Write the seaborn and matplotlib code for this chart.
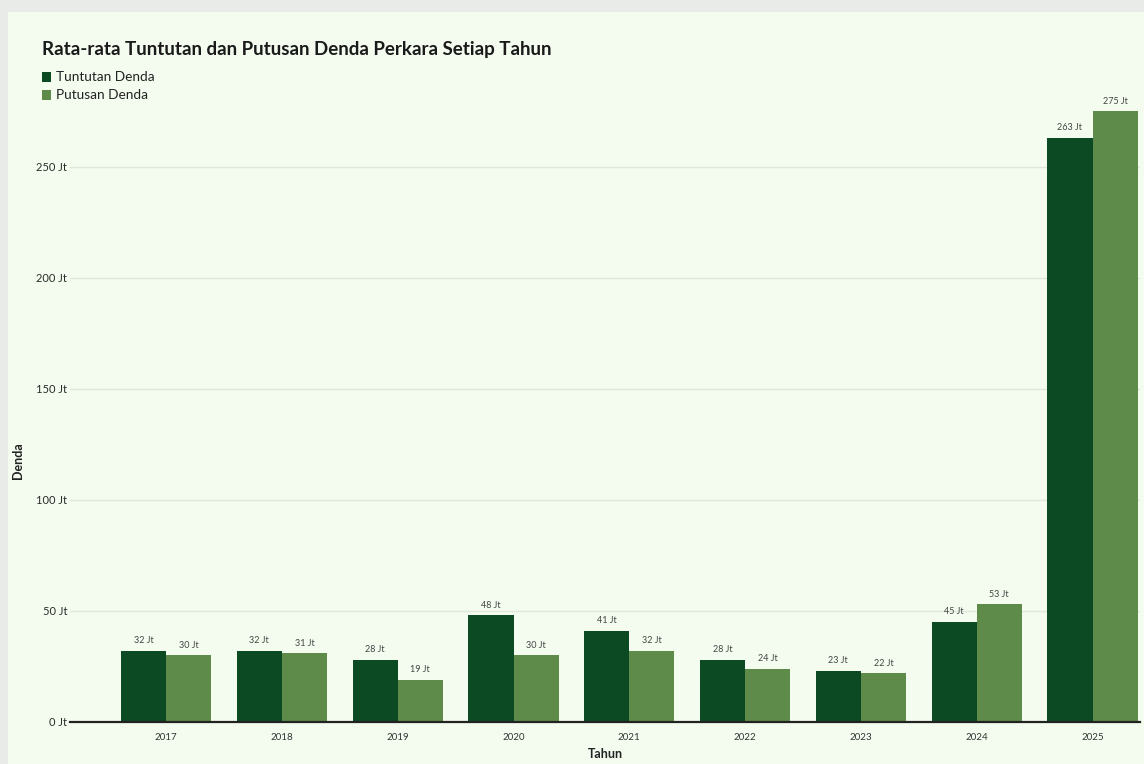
import matplotlib
matplotlib.use("Agg")
import matplotlib.pyplot as plt
from matplotlib.patches import Rectangle
import seaborn as sns
import pandas as pd

years = ["2017", "2018", "2019", "2020", "2021", "2022", "2023", "2024", "2025"]
tuntutan = [32, 32, 28, 48, 41, 28, 23, 45, 263]
putusan = [30, 31, 19, 30, 32, 24, 22, 53, 275]
series_names = ["Tuntutan Denda", "Putusan Denda"]
y_ticks = [0, 50, 100, 150, 200, 250]

DARK = "#0b4a22"
LIGHT = "#5f8b4a"
PANEL = "#f3fcef"
OUTER = "#e9ebe8"

df = pd.DataFrame({
    "Tahun": years * 2,
    "Denda": tuntutan + putusan,
    "Seri": [series_names[0]] * len(years) + [series_names[1]] * len(years),
})

sns.set_theme(style="white")
plt.rcParams["font.family"] = ["Lato", "DejaVu Sans"]

fig = plt.figure(figsize=(11.44, 7.64), dpi=100, facecolor=OUTER)
fig.patches.append(Rectangle((8 / 1144, 0), 1 - 8 / 1144, 1 - 12 / 764,
                             transform=fig.transFigure, facecolor=PANEL,
                             edgecolor="none", zorder=-10))

ax = fig.add_axes([70 / 1144, 42 / 764, 1070 / 1144, 622 / 764])
ax.set_facecolor(PANEL)
ax.patch.set_alpha(0)

sns.barplot(data=df, x="Tahun", y="Denda", hue="Seri",
            palette=[DARK, LIGHT], width=0.78, gap=0, ax=ax,
            legend=False, saturation=1, edgecolor="none")

ax.set_ylim(0, 280)
ax.set_xlim(-0.83, 8.41)
ax.set_yticks(y_ticks)
ax.set_yticklabels([f"{v} Jt" for v in y_ticks], fontsize=8, color="#2a2a2a")
ax.tick_params(axis="x", labelsize=7, colors="#333333", length=0, pad=8)
ax.tick_params(axis="y", length=0, pad=2)
ax.grid(axis="y", color="#dfe6da", linewidth=1)
ax.set_axisbelow(True)
for s in ["top", "right", "left"]:
    ax.spines[s].set_visible(False)
ax.spines["bottom"].set_color("#222222")
ax.spines["bottom"].set_linewidth(1.6)

for container in ax.containers:
    ax.bar_label(container, labels=[f"{v:.0f} Jt" for v in container.datavalues],
                 fontsize=6.5, color="#444444", padding=4)

ax.set_xlabel("Tahun", fontsize=9, fontweight="bold", color="#222222", labelpad=4)
ax.set_ylabel("Denda", fontsize=9, fontweight="bold", color="#222222", labelpad=8)
ax.yaxis.set_label_coords(-46 / 1070, 0.42)

fig.text(42 / 1144, 1 - 50 / 764, "Rata-rata Tuntutan dan Putusan Denda Perkara Setiap Tahun",
         fontsize=13.5, fontweight="bold", color="#1a1a1a", va="center")

for i, (name, col) in enumerate(zip(series_names, [DARK, LIGHT])):
    y = 1 - (77 + 18 * i) / 764
    fig.patches.append(Rectangle((42 / 1144, y - 4.5 / 764), 9 / 1144, 9 / 764,
                                 transform=fig.transFigure, facecolor=col,
                                 edgecolor="none", zorder=2))
    fig.text(56 / 1144, y, name, fontsize=9.8, color="#222222", va="center")

fig.savefig("out.png", dpi=100, facecolor=OUTER)
